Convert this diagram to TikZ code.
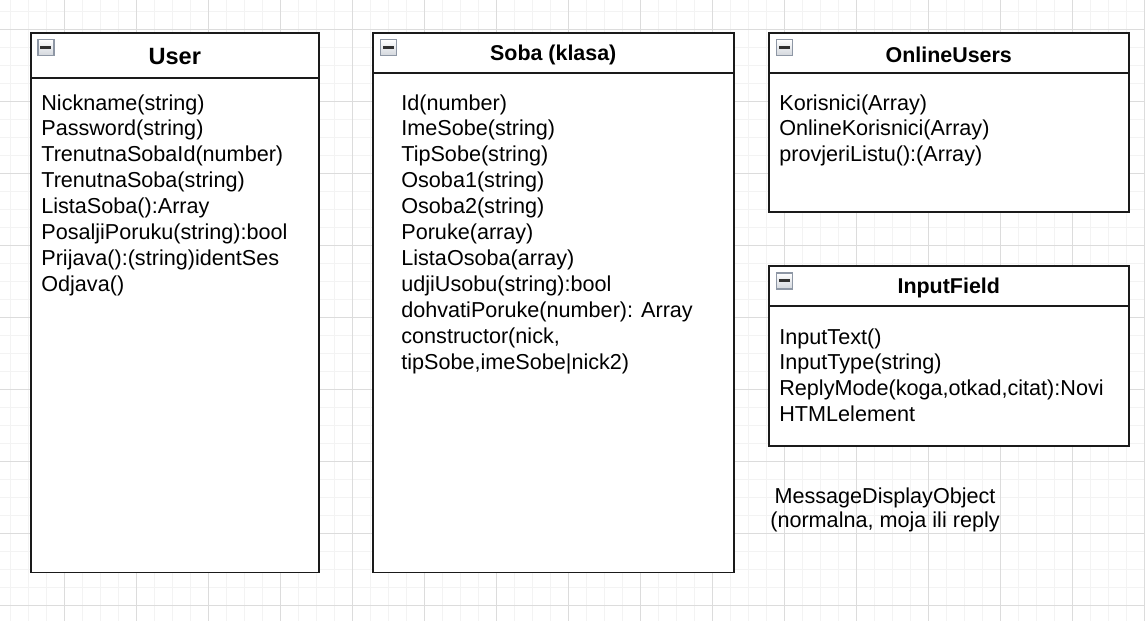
\documentclass[tikz,border=0pt]{standalone}
\usepackage{fontspec}
\setmainfont{Liberation Sans}
\usetikzlibrary{positioning,calc}
\definecolor{umlCrna}{HTML}{1A1A1A}
\definecolor{umlMreza}{HTML}{F3F3F3}
\definecolor{umlMrezaJaka}{HTML}{DCDCDC}
\definecolor{umlIkona}{HTML}{8E97A5}
\definecolor{umlIkonaFill}{HTML}{D3D7DD}
\tikzset{
  klasa/.style={rectangle, draw=umlCrna, line width=0.9pt, fill=white,
    anchor=north west, inner sep=0pt},
  naslov/.style={font=\bfseries\fontsize{12.2}{14}\selectfont, inner sep=0pt},
  atributi/.style={anchor=north west, align=left, inner sep=0pt,
    font=\fontsize{12.3}{14.75}\selectfont},
  opis/.style={anchor=north, align=center, inner sep=0pt,
    font=\fontsize{12.3}{14.2}\selectfont},
  crta/.style={draw=umlCrna, line width=0.9pt},
  minusIkona/.style={rectangle, draw=umlIkona, line width=0.9pt, top color=white,
    bottom color=umlIkonaFill, minimum size=0.32cm, inner sep=0pt,
    path picture={\fill[umlCrna!90]
      ([xshift=-0.11cm,yshift=-0.03cm]path picture bounding box.center) rectangle
      ([xshift=0.11cm,yshift=0.03cm]path picture bounding box.center);}},
}
\begin{document}
\begin{tikzpicture}[x=0.02cm, y=-0.02cm]
  \useasboundingbox (0,0) rectangle (1145,621);
  % mreza
  \foreach \x in {10,28,...,1144} \draw[umlMreza, line width=0.5pt] (\x,0) -- (\x,621);
  \foreach \y in {11,29,...,620} \draw[umlMreza, line width=0.5pt] (0,\y) -- (1145,\y);
  \foreach \x in {64,136,...,1144} \draw[umlMrezaJaka, line width=0.5pt] (\x,0) -- (\x,621);
  \foreach \y in {29,101,...,620} \draw[umlMrezaJaka, line width=0.5pt] (0,\y) -- (1145,\y);

  % User
  \node[klasa, minimum width=5.76cm, minimum height=10.8cm] (user) at (30,32) {};
  \draw[crta] ([yshift=-0.92cm]user.north west) -- ([yshift=-0.92cm]user.north east);
  \node[minusIkona] (userMinus) at ([xshift=0.32cm,yshift=-0.31cm]user.north west) {};
  \node[naslov, font=\bfseries\fontsize{13.4}{15}\selectfont] (userNaslov) at ([yshift=-0.5cm]user.north) {User};
  \node[atributi] (userAtr) at (41,94) {Nickname(string)\\Password(string)\\TrenutnaSobaId(number)\\TrenutnaSoba(string)\\ListaSoba():Array\\PosaljiPoruku(string):bool\\Prijava():(string)identSes\\Odjava()};

  % Soba
  \node[klasa, minimum width=7.22cm, minimum height=10.8cm] (soba) at (372,32) {};
  \draw[crta] ([yshift=-0.82cm]soba.north west) -- ([yshift=-0.82cm]soba.north east);
  \node[minusIkona] (sobaMinus) at ([xshift=0.33cm,yshift=-0.31cm]soba.north west) {};
  \node[naslov] (sobaNaslov) at ([yshift=-0.45cm]soba.north) {Soba (klasa)};
  \node[atributi] (sobaAtr) at (401,94) {Id(number)\\ImeSobe(string)\\TipSobe(string)\\Osoba1(string)\\Osoba2(string)\\Poruke(array)\\ListaOsoba(array)\\udjiUsobu(string):bool\\dohvatiPoruke(number): Array\\constructor(nick,\\tipSobe,imeSobe|nick2)};

  % OnlineUsers
  \node[klasa, minimum width=7.2cm, minimum height=3.58cm] (online) at (768,32) {};
  \draw[crta] ([yshift=-0.82cm]online.north west) -- ([yshift=-0.82cm]online.north east);
  \node[minusIkona] (onlineMinus) at ([xshift=0.33cm,yshift=-0.31cm]online.north west) {};
  \node[naslov] (onlineNaslov) at ([yshift=-0.45cm]online.north) {OnlineUsers};
  \node[atributi] (onlineAtr) at (779,94) {Korisnici(Array)\\OnlineKorisnici(Array)\\provjeriListu():(Array)};

  % InputField
  \node[klasa, minimum width=7.2cm, minimum height=3.6cm] (input) at (768,265) {};
  \draw[crta] ([yshift=-0.82cm]input.north west) -- ([yshift=-0.82cm]input.north east);
  \node[minusIkona] (inputMinus) at ([xshift=0.33cm,yshift=-0.32cm]input.north west) {};
  \node[naslov] (inputNaslov) at ([yshift=-0.45cm]input.north) {InputField};
  \node[atributi] (inputAtr) at (779,328) {InputText()\\InputType(string)\\ReplyMode(koga,otkad,citat):Novi\\HTMLelement};

  % MessageDisplayObject
  \node[opis] (poruka) at (885,487) {MessageDisplayObject\\(normalna, moja ili reply};
\end{tikzpicture}
\end{document}
